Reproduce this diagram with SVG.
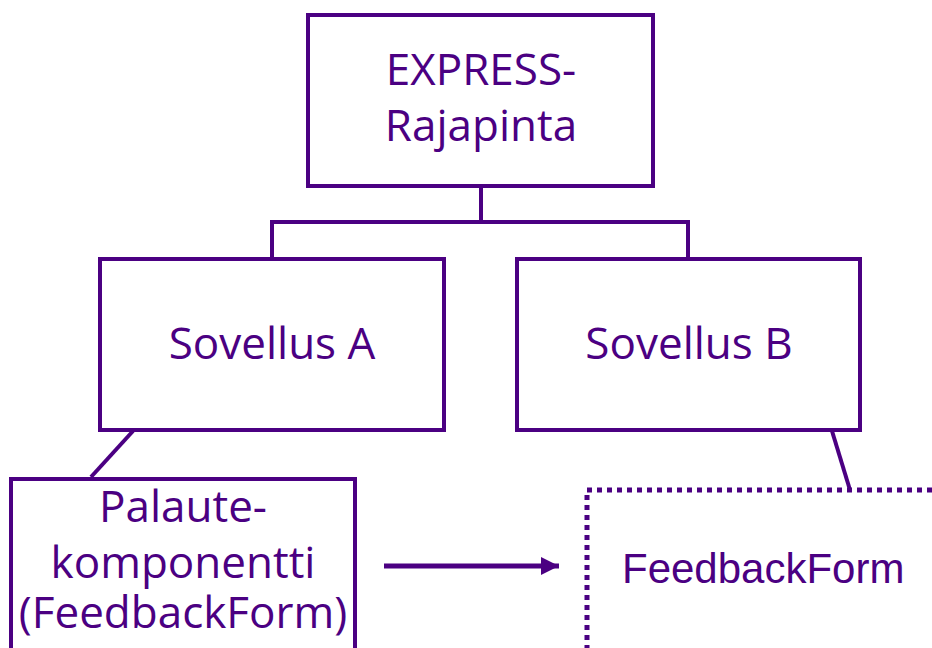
<svg xmlns="http://www.w3.org/2000/svg" width="932" height="648" viewBox="0 0 932 648">
  <style>
    .box { fill: #ffffff; stroke: #4b0082; stroke-width: 4; }
    .dotted { fill: #ffffff; stroke: #4b0082; stroke-width: 5; stroke-dasharray: 5 5; }
    .wire { fill: none; stroke: #4b0082; stroke-width: 4; }
    .lbl { font-family: "Open Sans", "Noto Sans", sans-serif; font-size: 44px; fill: #4b0082; text-anchor: middle; }
    .lbl2 { font-family: "Liberation Sans", Arial, sans-serif; font-size: 42px; fill: #4b0082; }
  </style>
  <defs>
    <marker id="head" viewBox="0 0 10 10" refX="10" refY="5" markerWidth="3.6" markerHeight="3.6" markerUnits="strokeWidth" orient="auto">
      <path d="M0,0 L10,5 L0,10 Z" fill="#4b0082"/>
    </marker>
  </defs>
  <rect width="932" height="648" fill="#ffffff"/>

  <g id="connectors">
    <path class="wire" d="M481,186 V222 M272,222 H688 M272,220 V259 M688,220 V259"/>
    <line class="wire" x1="133" y1="431" x2="91" y2="477"/>
    <line class="wire" x1="832" y1="431" x2="850" y2="490"/>
    <line x1="384" y1="566" x2="559" y2="566" stroke="#4b0082" stroke-width="5" marker-end="url(#head)"/>
  </g>

  <g id="express">
    <rect class="box" x="308" y="15" width="345" height="171"/>
    <text class="lbl" x="481" y="85">EXPRESS-</text>
    <text class="lbl" x="481" y="141">Rajapinta</text>
  </g>

  <g id="sovellus-a">
    <rect class="box" x="100" y="259" width="344" height="171"/>
    <text class="lbl" x="272" y="359">Sovellus A</text>
  </g>

  <g id="sovellus-b">
    <rect class="box" x="517" y="259" width="343" height="171"/>
    <text class="lbl" x="689" y="359">Sovellus B</text>
  </g>

  <g id="palaute">
    <rect class="box" x="11" y="479" width="344" height="200"/>
    <text class="lbl" x="183" y="522">Palaute-</text>
    <text class="lbl" x="183" y="578">komponentti</text>
    <text class="lbl" x="183" y="628">(FeedbackForm)</text>
  </g>

  <g id="feedbackform">
    <rect class="dotted" x="587" y="490" width="400" height="200"/>
    <text class="lbl2" x="622" y="583">FeedbackForm</text>
  </g>
</svg>
